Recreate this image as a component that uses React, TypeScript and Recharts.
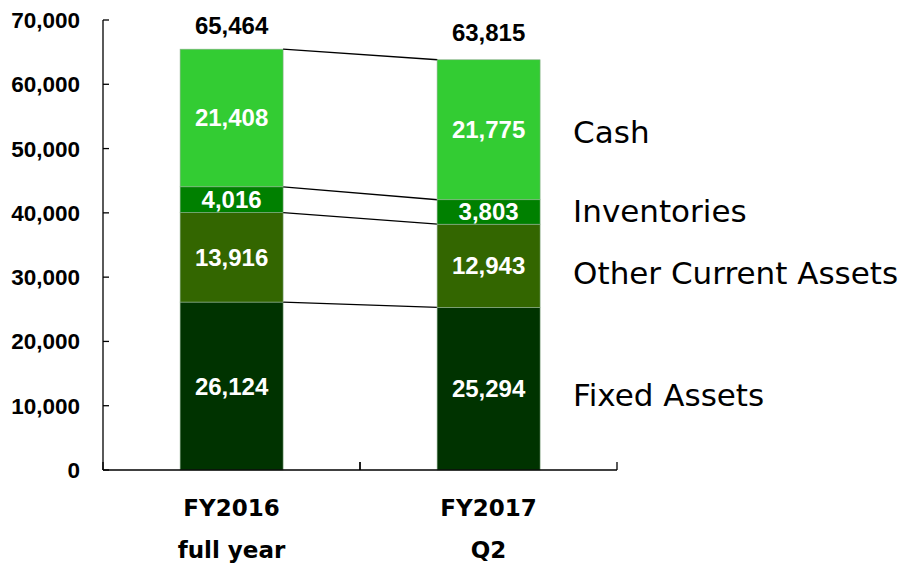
import React from "react";
import { BarChart, Bar, XAxis, YAxis, LabelList } from "recharts";

const categories = ["FY2016", "FY2017"];
const periods = ["full year", "Q2"];
const fixedAssets = [26124, 25294];
const otherCurrentAssets = [13916, 12943];
const inventories = [4016, 3803];
const cash = [21408, 21775];
const totals = [65464, 63815];
const yTicks = [0, 10000, 20000, 30000, 40000, 50000, 60000, 70000];

// bottom to top
const series = [
  { key: "fixed", name: "Fixed Assets", values: fixedAssets, color: "#003300", labelDy: 6 },
  { key: "other", name: "Other Current Assets", values: otherCurrentAssets, color: "#336600", labelDy: 7 },
  { key: "inv", name: "Inventories", values: inventories, color: "#008000", labelDy: -1 },
  { key: "cash", name: "Cash", values: cash, color: "#33cc33", labelDy: 2 },
];

// cumulative top of every segment, per category
const cumTops = series.map((_, s) =>
  categories.map((_, i) => series.slice(0, s + 1).reduce((acc, ser) => acc + ser.values[i], 0))
);

const data = categories.map((name, i) => {
  const row: Record<string, string | number> = { name, period: periods[i], total: totals[i] };
  series.forEach((s) => {
    row[s.key] = s.values[i];
  });
  return row;
});

const fmt = (v: number) => v.toLocaleString("en-US");
const numFont = "'Liberation Sans', Arial, sans-serif";

// bar segment + connector to the next category's matching boundary
const makeShape = (sIdx: number) => (props: any) => {
  const { x, y, width, height, index, fill } = props;
  const value = series[sIdx].values[index];
  const k = value ? height / value : 0;
  const out = [
    <rect key="r" x={x} y={y} width={width} height={height} fill={fill} stroke="#8fae8f" strokeWidth={0.6} />,
  ];
  if (index === 0) {
    const gap = width * 1.5; // barCategoryGap 30% -> gap = 1.5 * bar width
    const y2 = y + (cumTops[sIdx][0] - cumTops[sIdx][1]) * k;
    out.push(
      <line key="l" x1={x + width} y1={y} x2={x + width + gap} y2={y2} stroke="#000" strokeWidth={1.3} />
    );
  }
  return <g>{out}</g>;
};

const YTick = ({ x, y, payload }: any) => (
  <g>
    <line x1={x} x2={x + 6} y1={y} y2={y} stroke="#000" strokeWidth={1.3} />
    <text x={x - 23} y={y} dy={8} textAnchor="end" fontFamily={numFont} fontWeight="bold" fontSize={22.5} fill="#000">
      {fmt(payload.value)}
    </text>
  </g>
);

const XTick = ({ x, y, payload, index }: any) => {
  const half = payload.offset || 0;
  return (
    <g>
      {half ? (
        <>
          <line x1={x - half} x2={x - half} y1={y} y2={y - 8} stroke="#000" strokeWidth={1.3} />
          <line x1={x + half} x2={x + half} y1={y} y2={y - 8} stroke="#000" strokeWidth={1.3} />
        </>
      ) : null}
      <text x={x} y={y} dy={46} textAnchor="middle" fontFamily="'DejaVu Sans', Verdana, sans-serif" fontWeight="bold" fontSize={23} fill="#000">
        {payload.value}
      </text>
      <text x={x} y={y} dy={88} textAnchor="middle" fontFamily="'DejaVu Sans', Verdana, sans-serif" fontWeight="bold" fontSize={23} fill="#000">
        {periods[index] ?? ""}
      </text>
    </g>
  );
};

const makeSideLabel = (sIdx: number) => (props: any) => {
  const { x, y, width, height, index } = props;
  if (index !== 1) return null;
  return (
    <text
      x={x + width + 33}
      y={y + height / 2}
      dy={11 + series[sIdx].labelDy}
      fontFamily="'DejaVu Sans', sans-serif"
      fontSize={31}
      fill="#000"
    >
      {series[sIdx].name}
    </text>
  );
};

const TotalLabel = (props: any) => {
  const { x, y, width, index } = props;
  const lift = index === 1 ? 19 : 15;
  return (
    <text
      x={x + width / 2}
      y={y - lift}
      textAnchor="middle"
      fontFamily={numFont}
      fontWeight="bold"
      fontSize={24}
      fill="#000"
    >
      {fmt(totals[index])}
    </text>
  );
};

export default function App() {
  return (
    <div style={{ position: "absolute", left: 0, top: 0, background: "#fff" }}>
      <BarChart
        width={902}
        height={566}
        data={data}
        margin={{ top: 20, right: 285, bottom: 6, left: 0 }}
        barCategoryGap="30%"
      >
        <XAxis
          dataKey="name"
          axisLine={{ stroke: "#000", strokeWidth: 1.3 }}
          tickLine={false}
          tickSize={0}
          tickMargin={0}
          height={90}
          interval={0}
          tick={<XTick />}
        />
        <YAxis
          type="number"
          domain={[0, 70000]}
          ticks={yTicks}
          interval={0}
          width={103}
          axisLine={{ stroke: "#000", strokeWidth: 1.3 }}
          tickLine={false}
          tickSize={0}
          tickMargin={0}
          tick={<YTick />}
        />
        {series.map((s, sIdx) => (
          <Bar
            key={s.key}
            dataKey={s.key}
            stackId="a"
            fill={s.color}
            isAnimationActive={false}
            shape={makeShape(sIdx)}
          >
            <LabelList
              dataKey={s.key}
              position="center"
              formatter={(v: any) => fmt(Number(v))}
              fill="#fff"
              fontFamily={numFont}
              fontWeight="bold"
              fontSize={24}
            />
            <LabelList dataKey={s.key} content={makeSideLabel(sIdx)} />
            {s.key === "cash" ? <LabelList dataKey="total" content={<TotalLabel />} /> : null}
          </Bar>
        ))}
      </BarChart>
    </div>
  );
}
